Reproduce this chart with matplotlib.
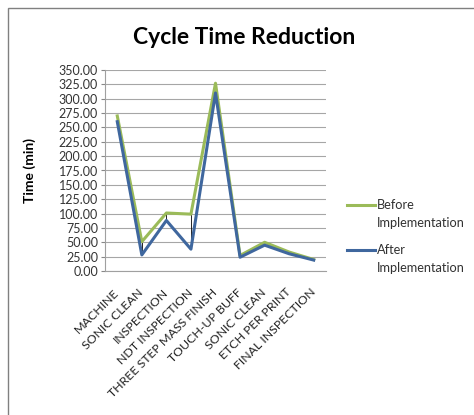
import matplotlib.pyplot as plt
from matplotlib.patches import Rectangle
from matplotlib.lines import Line2D
import numpy as np

plt.rcParams['font.family'] = ['Lato', 'DejaVu Sans']

steps = ["MACHINE", "SONIC CLEAN", "INSPECTION", "NDT INSPECTION",
         "THREE STEP MASS FINISH", "TOUCH-UP BUFF", "SONIC CLEAN",
         "ETCH PER PRINT", "FINAL INSPECTION"]
before = [270, 51, 101, 99, 327, 27, 50, 33, 20]
after = [260, 28, 88, 38, 310, 24, 45, 30, 19]
y_ticks = np.arange(0, 351, 25)

W, H = 474, 415
fig = plt.figure(figsize=(W / 100, H / 100), dpi=100)
ax = fig.add_axes([105 / W, 1 - 271 / H, 221 / W, 201 / H])

x = np.arange(len(steps))
green, blue = '#9BBB59', '#3F679E'

# high-low lines between the two series
ax.vlines(x, after, before, color='black', lw=0.6, zorder=2)
ax.plot(x, before, color=green, lw=2.2, zorder=3)
ax.plot(x, after, color=blue, lw=2.2, zorder=4)

ax.set_xlim(-0.5, len(steps) - 0.5)
ax.set_ylim(0, 350)
ax.set_yticks(y_ticks)
ax.set_yticklabels([f'{v:.2f}' for v in y_ticks], fontsize=9, color='#333333')
ax.set_xticks(x)
ax.set_xticklabels(steps, rotation=45, ha='right', va='center',
                   rotation_mode='anchor', fontsize=8.9, color='#222222')
ax.tick_params(axis='x', length=0, pad=14)
ax.tick_params(axis='y', length=3, color='#888888', pad=2)

ax.grid(axis='y', color='#a6a6a6', lw=0.8)
ax.set_axisbelow(True)
for s in ['top', 'right']:
    ax.spines[s].set_visible(False)
for s in ['left', 'bottom']:
    ax.spines[s].set_color('#a0a0a0')

ax.set_ylabel('Time (min)', fontsize=10, fontweight='bold')
ax.yaxis.set_label_coords((36 - 105) / 221, 0.5)
fig.text(244 / W, 1 - 37 / H, 'Cycle Time Reduction', ha='center', va='center',
         fontsize=16.5, fontweight='bold')

# legend drawn by hand: handle beside the first line of a two-line label
for ypix, col, name in [(205, green, 'Before'), (250, blue, 'After')]:
    yf = 1 - ypix / H
    fig.add_artist(Line2D([347 / W, 375 / W], [yf, yf], color=col, lw=2.2,
                          transform=fig.transFigure))
    fig.text(377 / W, yf, name, fontsize=9.2, color='#333333', va='center')
    fig.text(377 / W, 1 - (ypix + 18) / H, 'Implementation', fontsize=9.2,
             color='#333333', va='center')

# outer chart border
fig.patches.append(Rectangle((8 / W, -0.05), 1.1, 1 - 8 / H + 0.05,
                             transform=fig.transFigure, fill=False,
                             edgecolor='#808080', lw=1.0))

fig.savefig('out.png', dpi=100)
